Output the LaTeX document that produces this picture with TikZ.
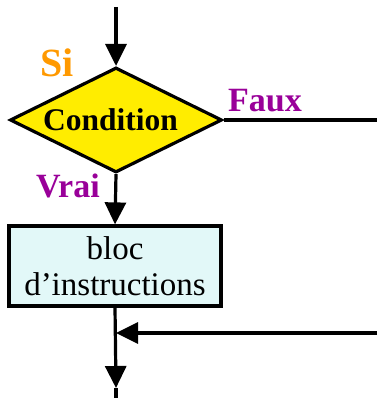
\documentclass[tikz,border=0pt]{standalone}
\usepackage{fontspec}
\setmainfont{Liberation Serif}
\usetikzlibrary{shapes.geometric,arrows.meta}
\definecolor{diayellow}{RGB}{255,237,0}
\definecolor{siorange}{RGB}{255,153,0}
\definecolor{lblpurple}{RGB}{153,0,153}
\definecolor{boxcyan}{RGB}{226,248,248}
\begin{document}
\begin{tikzpicture}[x=1pt,y=1pt,
  conn/.style={line width=3.2pt},
  arr/.style={conn,-{Triangle[length=22pt,width=21pt]}},
  cond/.style={diamond,draw,line width=3.2pt,fill=diayellow,minimum width=212pt,minimum height=105pt,inner sep=0pt,aspect=2,font=\fontsize{31.5}{34}\selectfont\bfseries},
  blocbox/.style={rectangle,draw,line width=3.2pt,fill=boxcyan,minimum width=212pt,minimum height=80pt,inner sep=0pt,align=center,font=\fontsize{33}{36}\selectfont},
  lbl/.style={anchor=base west,inner sep=0pt,font=\fontsize{34}{36}\selectfont\bfseries}]
\useasboundingbox (0,0) rectangle (377,398);
\coordinate (top) at (116,391);
\node[cond] (c) at (116,278) {Condition\kern11pt};
\node[blocbox] (b) at (115,132) {bloc\\d’instructions};
\coordinate (tip) at (116,10);
\coordinate (bot) at (116,0);
\coordinate (j) at (116,65);
\coordinate (rf) at (377,278);
\coordinate (rj) at (377,65);
\draw[arr] (top) -- (c.north);
\draw[arr] (c.south) -- (b.north);
\draw[conn] (c.east) -- (rf);
\draw[arr] (b.south) -- (tip);
\draw[conn] (tip) -- (bot);
\draw[arr] (rj) -- (j);
\node[lbl,text=siorange,font=\fontsize{40}{42}\selectfont\bfseries] (si) at (40,321) {Si};
\node[lbl,text=lblpurple] (faux) at (228,286) {Faux};
\node[lbl,text=lblpurple] (vrai) at (36,200) {Vrai};
\end{tikzpicture}
\end{document}
